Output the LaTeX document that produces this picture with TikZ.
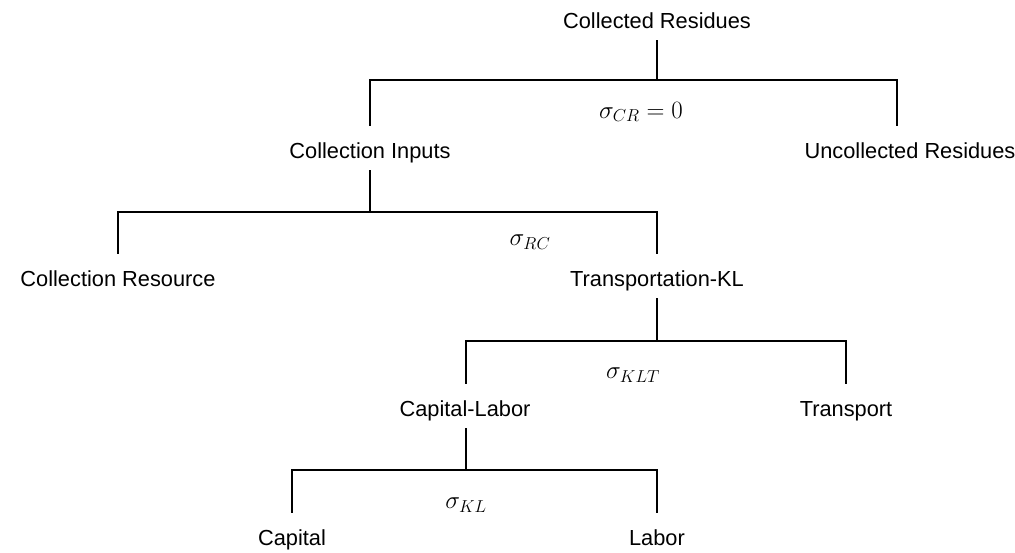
\documentclass[tikz,border=0pt]{standalone}
\usepackage[no-math]{fontspec}
\setmainfont{Liberation Sans}
\begin{document}
\begin{tikzpicture}[x=1pt,y=-1pt,
  lbl/.style={anchor=base,font=\fontsize{21.8}{26}\selectfont,
    text height=24pt,text depth=4pt,inner xsep=0pt,inner ysep=8pt},
  sig/.style={anchor=center,font=\fontsize{23}{28}\selectfont,inner sep=0pt},
  link/.style={line width=1.6pt,line cap=butt,line join=miter}]
\useasboundingbox (0,0) rectangle (1015,552);

% tree nodes (placed on their baselines)
\node[lbl] (CR) at (657,28)  {Collected Residues};
\node[lbl] (CI) at (370,158) {Collection Inputs};
\node[lbl] (UR) at (910,158) {Uncollected Residues};
\node[lbl] (RS) at (118,286) {Collection Resource};
\node[lbl] (TK) at (657,286) {Transportation-KL};
\node[lbl] (KL) at (465,416) {Capital-Labor};
\node[lbl] (TR) at (846,416) {Transport};
\node[lbl] (CA) at (292,545) {Capital};
\node[lbl] (LA) at (657,545) {Labor};

% substitution elasticities
\node[sig] (s1) at (641,112) {$\sigma_{CR}=0$};
\node[sig] (s2) at (530,242) {$\sigma_{RC}$};
\node[sig] (s3) at (633,375) {$\sigma_{KLT}$};
\node[sig] (s4) at (466,505) {$\sigma_{KL}$};

% branch levels
\coordinate (b1) at (0,80);
\coordinate (b2) at (0,212);
\coordinate (b3) at (0,341);
\coordinate (b4) at (0,470);

% brackets: parent stem, bar, child drops
\draw[link] (CR.south) -- (CR.south |- b1);
\draw[link] (CI.north) -- (CI.north |- b1) -- ([xshift=-13pt]UR.north |- b1) -- ([xshift=-13pt]UR.north);

\draw[link] (CI.south) -- (CI.south |- b2);
\draw[link] (RS.north) -- (RS.north |- b2) -- (TK.north |- b2) -- (TK.north);

\draw[link] (TK.south) -- (TK.south |- b3);
\draw[link] ([xshift=1pt]KL.north) -- ([xshift=1pt]KL.north |- b3) -- (TR.north |- b3) -- (TR.north);

\draw[link] ([xshift=1pt]KL.south) -- ([xshift=1pt]KL.south |- b4);
\draw[link] (CA.north) -- (CA.north |- b4) -- (LA.north |- b4) -- (LA.north);
\end{tikzpicture}
\end{document}
